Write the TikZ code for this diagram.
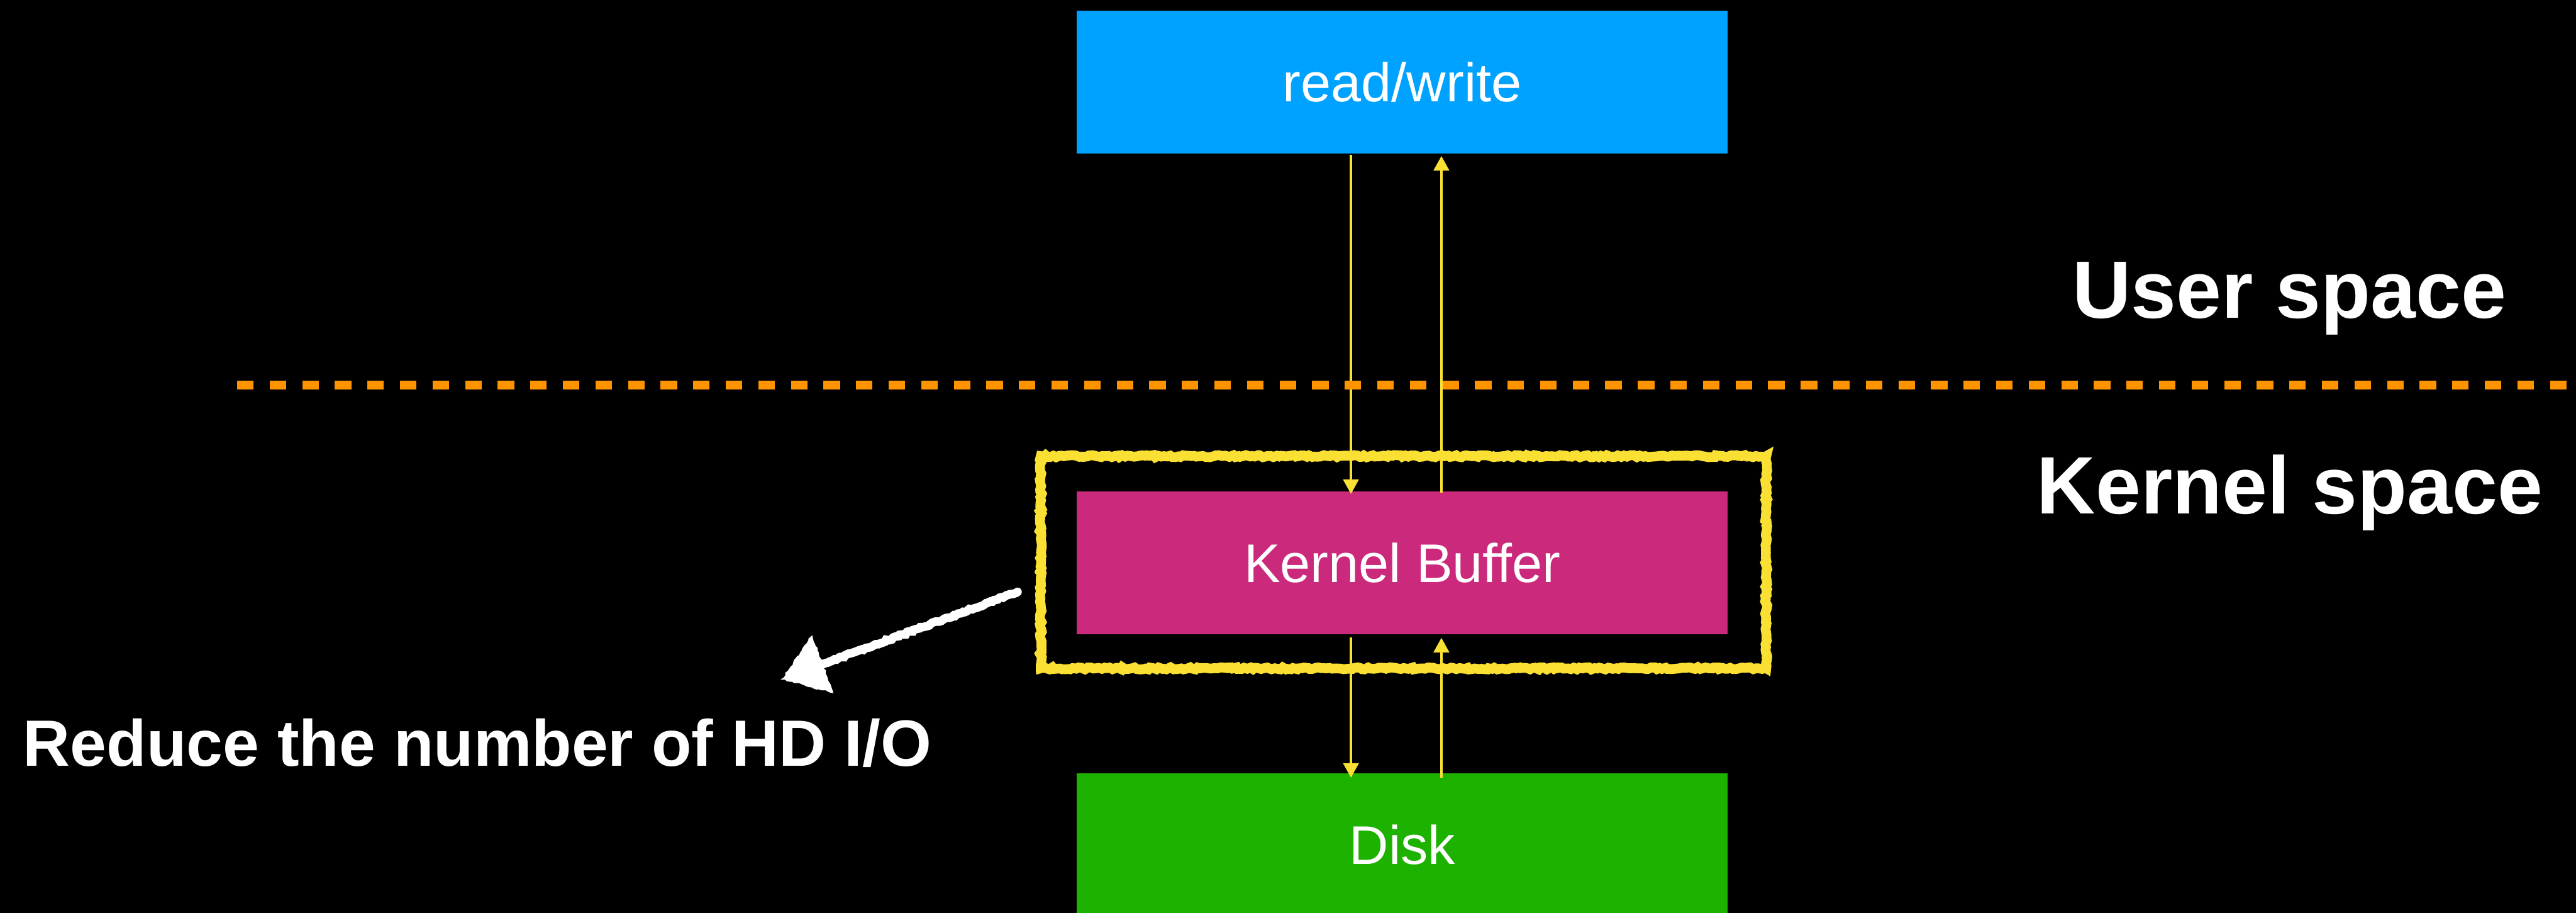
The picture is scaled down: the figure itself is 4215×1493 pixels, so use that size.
\documentclass[tikz,border=0pt]{standalone}
\usepackage{fontspec}
\setmainfont{Liberation Sans}
\usetikzlibrary{arrows.meta,decorations.pathmorphing,calc}
\definecolor{rwblue}{RGB}{0,162,255}
\definecolor{kbpink}{RGB}{203,41,123}
\definecolor{diskgreen}{RGB}{29,177,0}
\definecolor{flowyellow}{RGB}{249,224,52}
\definecolor{chalkyellow}{RGB}{250,224,50}
\definecolor{divorange}{RGB}{255,147,0}
\begin{document}
\begin{tikzpicture}[x=0.2pt,y=-0.2pt,
  box/.style={minimum width=213pt, minimum height=46.6pt, inner sep=0pt,
    text=white, font=\fontsize{17.8pt}{20pt}\selectfont},
  flow/.style={draw=flowyellow, line width=0.9pt,
    -{Triangle[length=4.8pt,width=5pt]}},
  divider/.style={draw=divorange, line width=2.8pt, dash pattern=on 5.4pt off 5.26pt},
  region/.style={text=white, font=\fontsize{26.6pt}{30pt}\selectfont\bfseries, inner sep=0pt, anchor=base},
  note/.style={text=white, font=\fontsize{21.4pt}{24pt}\selectfont\bfseries, inner sep=0pt, anchor=base},
  chalk/.style={draw=chalkyellow, line width=#1, decorate,
    decoration={random steps, segment length=0.9pt, amplitude=0.35pt}},
  chalkw/.style={draw=white, line width=#1, line cap=round, decorate,
    decoration={random steps, segment length=0.8pt, amplitude=0.3pt}},
]
% canvas
\fill[black] (0,0) rectangle (4215,1493);
\useasboundingbox (0,0) rectangle (4215,1493);

% boxes
\node[box, fill=rwblue]    (rw)   at (2294.5,134.5)  {read/write};
\node[box, fill=kbpink]    (kb)   at (2294.5,920.5)  {Kernel Buffer};
\node[box, fill=diskgreen] (disk) at (2294.5,1381.5) {Disk};

% data flow between the layers
\draw[flow, shorten <=0.2pt, shorten >=-1pt]
  ([xshift=-16.8pt]rw.south) -- ([xshift=-16.8pt]kb.north);
\draw[flow, shorten <=-0.6pt, shorten >=0.6pt]
  ([xshift=12.8pt]kb.north) -- ([xshift=12.8pt]rw.south);
\draw[flow, shorten <=0.8pt, shorten >=-1.6pt]
  ([xshift=-16.8pt]kb.south) -- ([xshift=-16.8pt]disk.north);
\draw[flow, shorten <=-1.6pt, shorten >=1pt]
  ([xshift=12.8pt]disk.north) -- ([xshift=12.8pt]kb.south);

% user / kernel boundary
\coordinate (divL) at (388,630);
\coordinate (divR) at (4215,630);
\draw[divider] (divL) -- (divR);

\node[region] (user)   at (3746,520) {User space};
\node[region] (kernel) at (3747,840) {Kernel space};

% chalk highlight around the kernel buffer
\draw[chalk=3.2pt] ([shift={(-58,-57)}]kb.north west) rectangle ([shift={(62,55)}]kb.south east);
\draw[chalk=1.6pt] ([shift={(-56,-59)}]kb.north west) rectangle ([shift={(60,57)}]kb.south east);

% chalk arrow to the note
\coordinate (ctail) at (1665,968);
\coordinate (ctip)  at (1282,1110);
\coordinate (chb) at ($(ctip)!13.4pt!(ctail)$);
\draw[chalkw=2.8pt] (ctail) -- ($(ctip)!12pt!(ctail)$);
\draw[chalkw=0.6pt, fill=white]
  (ctip) -- ($(chb)!9.6pt!90:(ctip)$) -- ($(chb)!9.6pt!-90:(ctip)$) -- cycle;

\node[note] (reduce) at (781,1253) {Reduce the number of HD I/O};
\end{tikzpicture}
\end{document}
